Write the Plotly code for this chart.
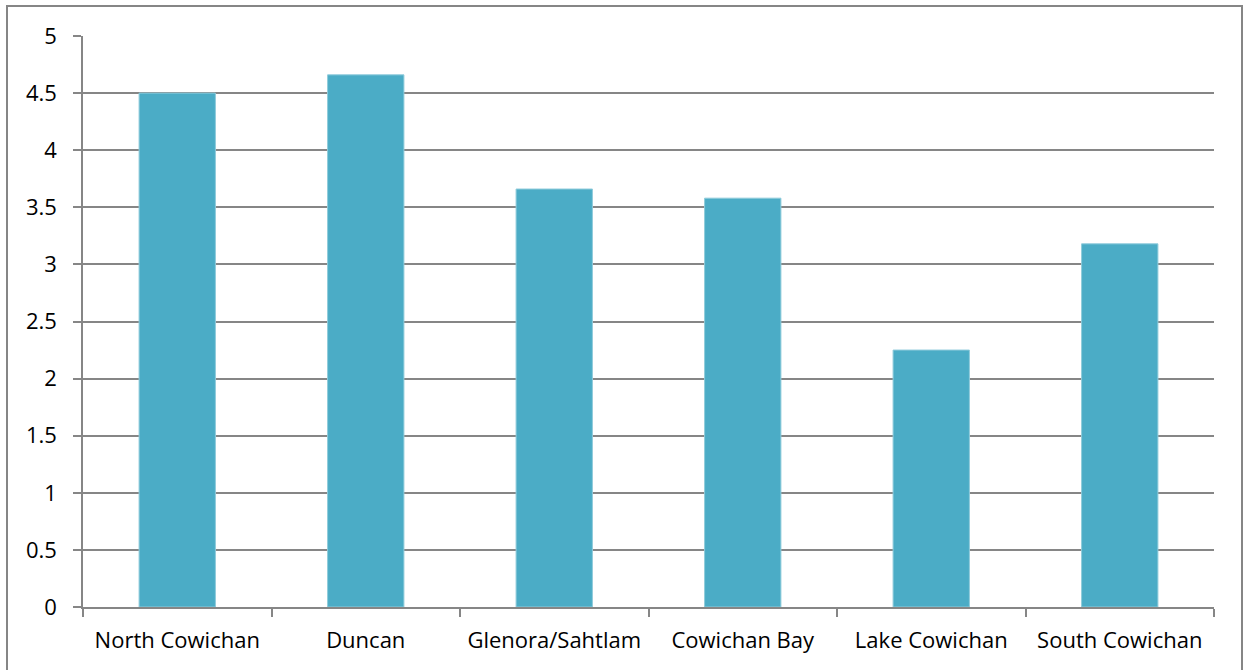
import plotly.graph_objects as go

categories = ["North Cowichan", "Duncan", "Glenora/Sahtlam", "Cowichan Bay", "Lake Cowichan", "South Cowichan"]
values = [4.5, 4.66, 3.66, 3.58, 2.25, 3.18]
y_ticks = [0, 0.5, 1, 1.5, 2, 2.5, 3, 3.5, 4, 4.5, 5]
y_tick_labels = ["0", "0.5", "1", "1.5", "2", "2.5", "3", "3.5", "4", "4.5", "5"]

W, H = 1244, 670
L, R, T, B = 83, 30, 36, 63
pw, ph = W - L - R, H - T - B

fig = go.Figure(go.Bar(
    x=categories, y=values,
    marker=dict(color="#4BACC6", line=dict(color="#8fcbdb", width=1)),
))

def px_to_paper_x(p):
    return (p - L) / pw

def py_to_paper_y(p):
    return (H - B - p) / ph

fig.update_layout(
    width=W, height=H,
    margin=dict(l=L, r=R, t=T, b=B),
    paper_bgcolor="white", plot_bgcolor="white",
    bargap=0.595,
    showlegend=False,
    font=dict(family="Open Sans, Liberation Sans, sans-serif", size=22, color="#000000"),
    xaxis=dict(
        showgrid=False, showline=True, linecolor="#868686", linewidth=1.5,
        ticks="outside", ticklen=8, tickcolor="#868686", tickwidth=1.5,
        tickson="boundaries", ticklabelstandoff=13, tickangle=0,
        automargin=False,
        tickfont=dict(size=22),
    ),
    yaxis=dict(
        range=[0, 5], tickvals=y_ticks, ticktext=y_tick_labels,
        showgrid=True, gridcolor="#868686", gridwidth=1.5,
        showline=True, linecolor="#868686", linewidth=1.5,
        ticks="outside", ticklen=8, tickcolor="#868686", tickwidth=1.5,
        ticklabelstandoff=12, automargin=False,
        zeroline=False, tickfont=dict(size=22),
    ),
    shapes=[dict(
        type="rect", xref="paper", yref="paper", layer="below",
        x0=px_to_paper_x(7), x1=px_to_paper_x(1242),
        y0=py_to_paper_y(700), y1=py_to_paper_y(6),
        line=dict(color="#868686", width=2), fillcolor="rgba(0,0,0,0)",
    )],
)

fig.write_html("out.html")
